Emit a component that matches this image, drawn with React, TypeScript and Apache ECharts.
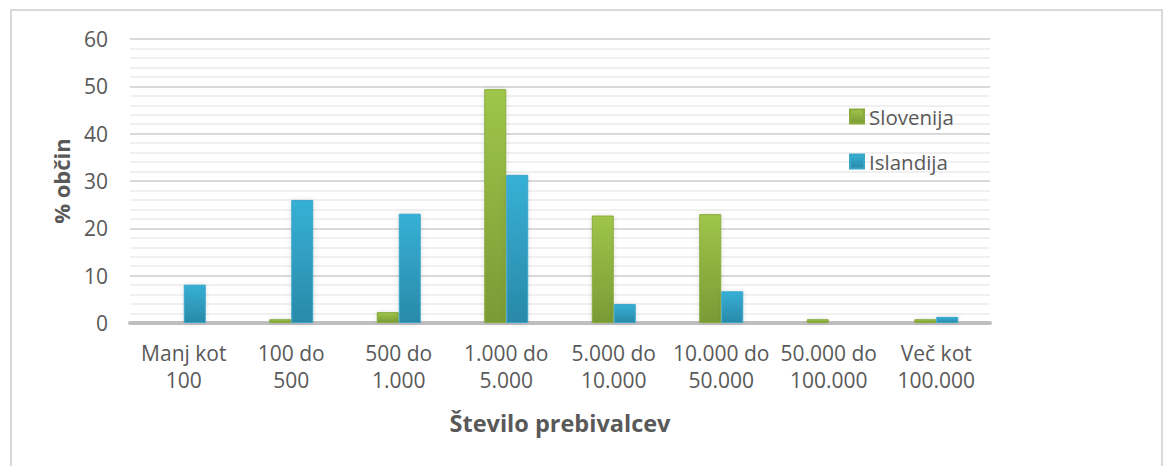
import React, { useEffect, useRef } from "react";
import * as echarts from "echarts";

const categories = [
  "Manj kot\n100",
  "100 do\n500",
  "500 do\n1.000",
  "1.000 do\n5.000",
  "5.000 do\n10.000",
  "10.000 do\n50.000",
  "50.000 do\n100.000",
  "Več kot\n100.000",
];

const slovenija = [0, 0.8, 2.3, 49.4, 22.7, 23.0, 0.8, 0.8];
const islandija = [8.1, 26.0, 23.1, 31.3, 4.0, 6.7, 0, 1.3];

const yTicks = { min: 0, max: 60, interval: 10 };

const FONT = "'Open Sans', 'Noto Sans', sans-serif";
const TEXT = "#595959";

function barGradient(top: string, bottom: string) {
  return new echarts.graphic.LinearGradient(0, 0, 0, 1, [
    { offset: 0, color: top },
    { offset: 1, color: bottom },
  ]);
}

export default function App() {
  const ref = useRef<HTMLDivElement>(null);

  useEffect(() => {
    if (!ref.current) return;
    const chart = echarts.init(ref.current, undefined, { renderer: "svg" });
    chart.setOption({
      animation: false,
      backgroundColor: "#ffffff",
      textStyle: { fontFamily: FONT },
      graphic: [
        {
          type: "rect",
          shape: { x: 11, y: 10, width: 1151, height: 480 },
          style: { fill: "none", stroke: "#d9d9d9", lineWidth: 2 },
          silent: true,
        },
      ],
      grid: { left: 130, right: 174, top: 39, bottom: 143 },
      legend: {
        orient: "vertical",
        left: 844,
        top: 101,
        itemWidth: 14,
        itemHeight: 14,
        itemGap: 24,
        icon: "rect",
        textStyle: { fontFamily: FONT, fontSize: 20.5, color: TEXT },
        data: ["Slovenija", "Islandija"],
      },
      xAxis: {
        type: "category",
        data: categories,
        name: "Število prebivalcev",
        nameLocation: "middle",
        nameGap: 88,
        nameTextStyle: {
          fontFamily: FONT,
          fontSize: 23.5,
          fontWeight: "bold",
          color: TEXT,
        },
        axisLine: { show: true, lineStyle: { color: "#bfbfbf", width: 4 } },
        axisTick: { show: false },
        axisLabel: {
          interval: 0,
          margin: 16,
          fontFamily: FONT,
          fontSize: 21,
          lineHeight: 27,
          color: TEXT,
        },
      },
      yAxis: {
        type: "value",
        min: yTicks.min,
        max: yTicks.max,
        interval: yTicks.interval,
        name: "% občin",
        nameLocation: "middle",
        nameRotate: 90,
        nameGap: 58,
        nameTextStyle: {
          fontFamily: FONT,
          fontSize: 22,
          fontWeight: "bold",
          color: TEXT,
        },
        axisLine: { show: false },
        axisTick: { show: false },
        axisLabel: { margin: 22, fontFamily: FONT, fontSize: 21, color: TEXT },
        splitLine: { show: true, lineStyle: { color: "#d9d9d9", width: 2 } },
        minorTick: { show: false, splitNumber: 5 },
        minorSplitLine: {
          show: true,
          lineStyle: { color: "#f0f0f0", width: 2 },
        },
      },
      series: [
        {
          name: "Slovenija",
          type: "bar",
          data: slovenija,
          barWidth: 22,
          barGap: "0%",
          itemStyle: {
            color: barGradient("#9fc54a", "#7a9a35"),
            borderColor: "#89ab3c",
            borderWidth: 1,
            shadowColor: "rgba(0,0,0,0.12)",
            shadowBlur: 5,
          },
        },
        {
          name: "Islandija",
          type: "bar",
          data: islandija,
          barWidth: 22,
          barGap: "0%",
          itemStyle: {
            color: barGradient("#36b0d6", "#2a89a8"),
            borderColor: "#3aa6c8",
            borderWidth: 1,
            shadowColor: "rgba(0,0,0,0.12)",
            shadowBlur: 5,
          },
        },
      ],
    });
    return () => chart.dispose();
  }, []);

  return (
    <div
      ref={ref}
      style={{ position: "fixed", left: 0, top: 0, width: 1164, height: 466 }}
    />
  );
}
